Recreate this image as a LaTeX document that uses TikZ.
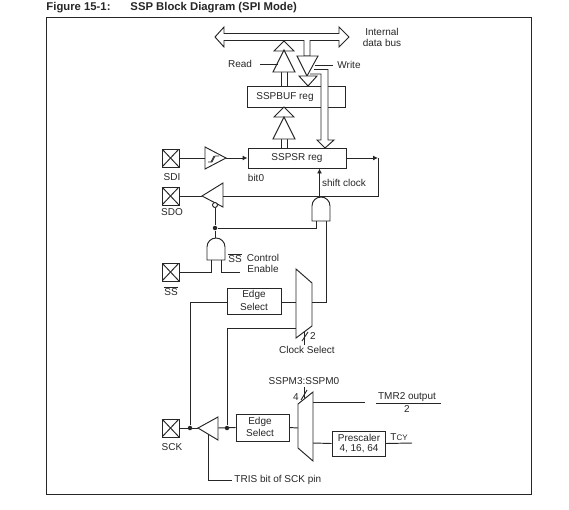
\documentclass[tikz,border=0pt]{standalone}
\usepackage{fontspec}
\setmainfont{Liberation Sans}
\usetikzlibrary{arrows.meta,positioning}

\tikzset{
  lbl/.style={inner sep=0pt,font=\fontsize{10}{12}\selectfont},
  titlelbl/.style={inner sep=0pt,anchor=west,font=\fontsize{11.3}{13}\selectfont\bfseries},
  regbox/.style={draw,inner sep=0pt,fill=white},
  padbox/.style={draw,inner sep=0pt,minimum width=17pt,minimum height=18pt,
    path picture={
      \draw (path picture bounding box.north west) -- (path picture bounding box.south east);
      \draw (path picture bounding box.north east) -- (path picture bounding box.south west);
    }},
  junc/.style={circle,fill,inner sep=0pt,minimum size=4.5pt},
  sig/.style={-{Latex[length=5pt,width=5pt]}},
  hollow/.style={draw,fill=white,line join=miter},
}

\begin{document}
\begin{tikzpicture}[x=1pt,y=-1pt,line width=0.95pt,color=black!85]
  \useasboundingbox (0,0) rectangle (569,509);
  \draw (46,17) rectangle (531,494);
  \node[titlelbl] (figno) at (46,8) {Figure 15-1:};
  \node[titlelbl] (figtitle) at (130,8) {SSP Block Diagram (SPI Mode)};

  % registers
  \node[regbox,minimum width=98pt,minimum height=21pt] (sspbuf) at (296.5,96.5) {};
  \node[lbl] (sspbuftext) at (285,97) {SSPBUF reg};
  \node[regbox,minimum width=98pt,minimum height=20pt] (sspsr) at (297,158) {};
  \node[lbl] (sspsrtext) at (297,158) {SSPSR reg};

  % internal bus
  \draw[hollow] (215,37) -- (224,27) -- (224,33.5) -- (339,33.5) -- (339,27) -- (349,37)
    -- (339,47) -- (339,40.5) -- (310,40.5) -- (310,56) -- (304,56) -- (304,40.5)
    -- (224,40.5) -- (224,47) -- cycle;
  \node[lbl] (internal) at (382,32) {Internal};
  \node[lbl] (databus) at (382,43) {data bus};

  % read path
  \draw[hollow] (281,86) -- (281,70) -- (287,70) -- (287,86);
  \draw[hollow] (284,41) -- (294,51) -- (274,51) -- cycle;
  \draw[hollow] (284,50) -- (295,72) -- (273,72) -- cycle;
  \node[lbl] (read) at (240,64) {Read};
  \coordinate (readstub) at (260,64);
  \coordinate (readen) at (278,64);
  \draw (readstub) -- (readen);

  % write path
  \draw[hollow] (314,69.5) -- (328,69.5) -- (328,140) -- (334,140) -- (325,148) -- (317,140)
    -- (321,140) -- (321,74) -- (310,74);
  \draw[hollow] (297,56) -- (318,56) -- (307,76) -- cycle;
  \draw[hollow] (308,86) -- (299,76) -- (317,76) -- cycle;
  \node[lbl] (write) at (349,65) {Write};
  \coordinate (writeen) at (315,65);
  \coordinate (writestub) at (333,65);
  \draw (writeen) -- (writestub);

  % shift register to buffer
  \draw[hollow] (281,148) -- (281,135) -- (287,135) -- (287,148);
  \draw[hollow] (284,107) -- (294,117) -- (274,117) -- cycle;
  \draw[hollow] (284,117) -- (295,139) -- (273,139) -- cycle;

  % SDI
  \node[padbox] (sdi) at (170.5,158) {};
  \node[lbl] (sditext) at (172,177) {SDI};
  \draw[hollow] (205,147) -- (226,158) -- (205,169) -- cycle;
  \coordinate (sdibufin) at (205,158);
  \coordinate (sdibufout) at (226,158);
  \draw[line width=0.7pt] (208,162) -- (212,162) -- (215,156) -- (219,156);
  \draw[line width=0.7pt] (211,162) -- (214,156);
  \draw (sdi.east) -- (sdibufin);
  \draw[sig] (sdibufout) -- (sspsr.west);
  \node[lbl] (bitzero) at (256,178) {bit0};

  % SDO
  \node[padbox] (sdo) at (170.5,196) {};
  \node[lbl] (sdotext) at (172,212) {SDO};
  \draw[hollow] (202,196) -- (223,183) -- (223,207) -- cycle;
  \coordinate (sdobufin) at (223,196);
  \coordinate (sdobufout) at (202,196);
  \node[draw,circle,fill=white,inner sep=0pt,minimum size=5pt] (sdoen) at (215,205) {};
  \coordinate (srcorner) at (378,158);
  \draw[sig] (sspsr.east) -- (srcorner);
  \draw (srcorner) |- (sdobufin);
  \draw (sdo.east) -- (sdobufout);

  % gates
  \draw[hollow] (312,221) -- (312,206) arc[start angle=180,end angle=360,radius=9] -- (330,221) -- cycle;
  \coordinate (andatop) at (319.5,197.5);
  \draw[sig] (andatop) -- (andatop |- sspsr.south);
  \node[lbl] (shiftclock) at (344,183) {shift clock};
  \draw[hollow] (207,260) -- (207,247) arc[start angle=180,end angle=360,radius=9] -- (225,260) -- cycle;
  \coordinate (andbtop) at (215,238);
  \node[junc] (juncen) at (215,228) {};
  \draw (sdoen) -- (juncen);
  \draw (juncen) -- (andbtop);
  \coordinate (andain) at (316,221);
  \draw (juncen) -| (andain);

  % SS
  \node[padbox] (ss) at (170.5,272) {};
  \node[lbl] (sstext) at (171,291) {$\overline{\mbox{SS}}$};
  \coordinate (andbina) at (211,260);
  \coordinate (andbinb) at (221,260);
  \coordinate (ssctrl) at (240,272);
  \draw (ss.east) -| (andbina);
  \draw (andbinb) |- (ssctrl);
  \node[lbl] (ssbar) at (235,258) {$\overline{\mbox{SS}}$};
  \node[lbl] (control) at (263,258) {Control};
  \node[lbl] (enable) at (263,269) {Enable};

  % clock mux
  \node[regbox,minimum width=54pt,minimum height=26pt,align=center] (edgea) at (254,301) {};
  \node[lbl] (edgeatext) at (254,295) {Edge};
  \node[lbl] (selectatext) at (254,307) {Select};
  \draw[hollow] (296,269) -- (312,283) -- (312,326) -- (296,338) -- cycle;
  \coordinate (muxaina) at (296,302);
  \coordinate (muxainb) at (296,328);
  \coordinate (muxaout) at (312,302);
  \coordinate (andbout) at (326,221);
  \draw (edgea.east |- muxaina) -- (muxaina);
  \draw (muxaout) -| (andbout);
  \draw (304,332) -- (304,345);
  \draw (302,341) -- (308,332);
  \node[lbl] (two) at (313,336) {2};
  \node[lbl] (clockselect) at (307,350) {Clock Select};

  % SCK
  \node[padbox] (sck) at (170.5,428) {};
  \node[lbl] (scktext) at (172,447) {SCK};
  \draw[hollow] (198,428) -- (218,417) -- (218,440) -- cycle;
  \coordinate (sckbufa) at (198,428);
  \coordinate (sckbufb) at (218,428);
  \node[junc] (juncsck) at (190,428) {};
  \node[junc] (juncedge) at (227,428) {};
  \node[regbox,minimum width=53pt,minimum height=27pt] (edgeb) at (262.5,427.5) {};
  \node[lbl] (edgebtext) at (260,422) {Edge};
  \node[lbl] (selectbtext) at (260,433) {Select};
  \draw (sck.east) -- (sckbufa);
  \draw (sckbufb) -- (edgeb.west);
  \draw (juncsck) |- (edgea.west |- muxaina);
  \draw (juncedge) |- (muxainb);
  \coordinate (tristop) at (208,434);
  \coordinate (trisend) at (232,480);
  \draw (tristop) |- (trisend);
  \node[lbl,anchor=west] (tristext) at (234,480) {TRIS bit of SCK pin};

  % mode mux
  \draw[hollow] (298,404) -- (313,392) -- (313,461) -- (298,448) -- cycle;
  \coordinate (muxbin) at (298,428);
  \coordinate (muxbouta) at (313,402);
  \coordinate (muxboutb) at (313,443);
  \coordinate (tmrend) at (365,402);
  \coordinate (tcyend) at (412,443);
  \draw (edgeb.east) -- (muxbin);
  \draw (muxbouta) -- (tmrend);
  \node[regbox,minimum width=53pt,minimum height=25pt] (prescaler) at (358.5,443.5) {};
  \node[lbl] (prescalertext) at (359,438) {Prescaler};
  \node[lbl] (ratiotext) at (359,449) {4, 16, 64};
  \draw (muxboutb) -- (prescaler.west);
  \draw (prescaler.east) -- (tcyend);
  \node[lbl] (tcy) at (399,437) {T{\fontsize{8}{8}\selectfont CY}};
  \node[lbl] (mode) at (304,381) {SSPM3:SSPM0};
  \draw (304,387) -- (304,398);
  \draw (301,400) -- (307,390);
  \node[lbl] (four) at (296,397) {4};

  % TMR2
  \node[lbl] (tmr) at (407,397) {TMR2 output};
  \draw (376,403) -- (441,403);
  \node[lbl] (tmrtwo) at (407,409) {2};
\end{tikzpicture}
\end{document}
